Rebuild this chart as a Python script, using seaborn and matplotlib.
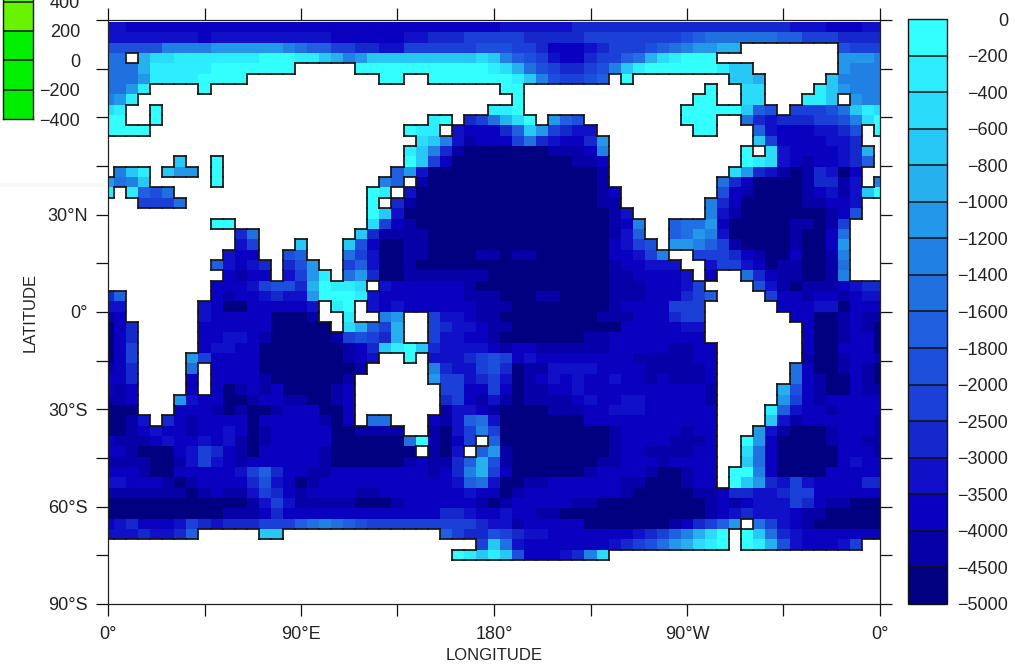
import numpy as np
import pandas as pd
import matplotlib
matplotlib.use('Agg')
import matplotlib.pyplot as plt
from matplotlib.collections import LineCollection
from matplotlib.colors import BoundaryNorm, ListedColormap
from matplotlib.patches import Rectangle
import seaborn as sns

# depth classes, hex digit = class counted from the top of the colorbar, '.' = land
# each row has 65 columns in groups of five, the first and last column are cut in half by the axes
ARCTIC_ROWS = [
    'ccddd ddddd ddddd ddddd ddddd ddddd dddcc ccccb bbbbb bbbbb bbbbb bbccc dddcc',
    'ccccc cccdc ccccc ccccd ddddd ccbbb aaaaa bbbbb aaaaa aaa98 77777 788aa abbbb',
    '99999 66665 55555 6788a abbcc aaaaa a999a abddd cbaaa 98765 544.. ..... .9aaa',
    '77.42 21111 11100 01134 65333 33333 32368 9acdd baa87 42100 0.... ..... .5556',
    '77741 11110 00000 0.... .0000 00000 00124 79abb a9631 00000 0133. ..... .5666',
    '77751 11100 00... ..... ...00 ..000 00001 369aa 98.0. ..... ..334 ..... 36666',
    '7751. ...0. ..... ..... ..... ..... ...00 ..... ..... ..... 0..22 ....1 35666',
    '651.. ..... ..... ..... ..... ..... ....0 ..... ..... ....0 0..22 ...11 3.566',
    '21..0 ..... ..... ..... ..... ..... ..110 ..... ..... ...00 00038 9.aaa 97312',
    '00..0 ..... ..... ..... ..... ..10. ba742 0.589 ..... ...00 0..7b cbbba a9620',
    '0000. ..... ..... ..... ..... 011.c dddb8 35abc c.... ....0 0...8 cdddc cb9.0',
    '..... ..... ..... ..... ..... .236c eddda 7bcdd b5... ..... ....3 adddd ccb..',
    '..... ..... ..... ..... ..... 136be fffff ffeee d6... ..... ...0. 2cddd dcb4.',
    '..... .3..0 ..... ..... ..... 03adf fffff ffffe ed... ..... ...01 2cded dcb8.',
    '.631. 355.0 ..... ..... ....8 5cfff fffff fffff fe... ..... ..25b cefeb cfd..',
    '5763. ....0 ..... ..... ...68 .efff fffff fffff fe... ..... .7bdf fffeb bec.6',
    '1.189 7.... ..... ..... ..01. cffff fffff fffff fed.. ..... .9def fffed cec30',
    '...aa a7... ..... ..... ..0.b effff fffff fffff fee.. ..... 6bdff fffee ddc..',
]
TROPIC_ROWS = [
    '..... ..... ..... ..... ..03c fffff fffff fffff ffec. ..... 6ceff fffff ed9..',
    '..... ....0 0.... ..... ..2ad effff fffff fffff ffed6 ..877 5dfff ffeef ea...',
    '..... ..... .b7.. ..... .3bee eefff fffff fffff ffec8 ..875 6cfff ffeff d7...',
    '..... ..... .ca.. .3... 39dff eefff fffff fffff ffdca 9.556 8aeff ffeff d5...',
    '..... ..... cdd.. 98... 7acff eefff feefe effff ffddc a6..a aabde ffdff e6...',
    '..... ....8 cdcb. b95.. a8cff effff fffff fffff ffedd ccc.. caacd feeff e7...',
    '..... ..... dedd. ca51. 75bff eeeee eefff fffff ffeed dddc. d..7b deeff e6...',
    '..... ....d ddca9 9b401 12.cd ddddd effff fffff ffeee dddca ....9 cefee edcbb',
    'b8... ....d eddcb cc500 01cdd ddddd eeeff feeff ffeee dddba 8.... added dedcc',
    'cc... ...cd ffddd ddc.1 0.cdc ddddd deeef fffff ffedd ddaaa ..... .dddc cfddd',
    'ed... ...cd ddddf ffe.. 1..65 ..acc deeff fffff feeed ddbaa ..... ..ddf fedee',
    'fdb.. ...dd ddddf ffff. 248a4 ..abc cdeef fffff fffdd dddcc ..... ...df fedef',
    'fdb.. ...dd ccdef ffffe a9ab4 ..acc ddeff fffff eeddd ddddd ..... ...df feddf',
    'fda.. ...dc cddff fffff edb31 03bcc ccded deeee eeddd ddeed d.... ...df fdddf',
    'fda.. ..5ad dddff fffff edc.. 0.ccc ba9ad cdddd dddde eeeed d.... ...ef fedde',
    'edb.. ..7.d dddff fffff fe... ..6bc ca9bf eeccc cdddd eeeee d.... ..7df fedef',
    'ddb.. ..d.d dddef fffff e.... ..5aa cbacf edcdc ddcdd edeee d.... ..7de ffdef',
    'ded.. ..d.d feded ffffe d.... ...aa ddadf eeddc ddddd ddddd e.... .49de ffdee',
    'eed.. .5cdd ffedd eeffe d.... ...ba decef eeeed cddcc ddddd e.... .5ade ddddd',
    'fff.. .ddde feffe dddff d.... ...ec cdeff ffeee ddccc ddddd d.... 18cdd edddd',
]
SOUTHERN_ROWS = [
    'ffec. bdedd ddfdd dddef d.77. ..dec 87cff fffff ddddd ddddd d.... 3cedd dddde',
    'ffedc ddedd cdfed ddddf feeee ..efc a6aff fffff ffedd ddded d...5 cefff eddde',
    'deeed cddcd cefed ddddf fffff 70efd a.8ff fffff ffedd ddeee d..05 dffff eddee',
    'ddeff fdcab defdd dddef fffff f.efc .85ef fffff ffedd eeeed d..27 dffff fddde',
    'eeeef fecac deddd dddef fffff edeeb 849ef fffff feedd deddd d..37 dffff fdcdd',
    'dddef fdddd dca8b ddeed ddddd ddedb 64adf fffff edddd effed d.006 dffff ddddd',
    'ccddd efedd ddb9c dfedd ddddd ddddc 87cff eeddd dddee fffed d.035 bcacd dddbb',
    'eeeee eefed eecab deddd deedd ddddd cddfe ddddd dddef ffffe edbbc cbaad ddddd',
    'fffff fffff ffeca ceeee efffe ddddd defed dddde effff fffff ededc ccabd eefff',
    'fffff fffff eeedb ddddd ddddd dddbb cddcd deeff fffff fffff edcbc ccdee fffff',
    'dcbdd dcabc bbbaa a8767 89aaa aaaaa abcce ddddd fffff ffedb a85.7 acdef fffff',
    'cccbc cb8.. ...33 ..... ..... ...8a bb9ab ccddd ddddc ba864 20.03 7bcdd ddddd',
    '..... ..... ..... ..... ..... ..... .a37c ddddd ddcba 97542 10.01 49cdd dca..',
    '..... ..... ..... ..... ..... ....0 13139 dddcb 62... ..... ..... ..... .....',
]

level_edges = [-5000, -4500, -4000, -3500, -3000, -2500, -2000, -1800, -1600, -1400,
               -1200, -1000, -800, -600, -400, -200, 0]
level_colors = ['#000080', '#0500a8', '#0a00c0', '#0f10c8', '#1428cc', '#1a40d8', '#1c50dc', '#2060e0',
                '#2070e0', '#2080e4', '#2398ea', '#26b0ee', '#27c8f5', '#2adcfa', '#2deeff', '#33ffff']

small_edges = [-400, -200, 0, 200, 400, 600]
small_colors = ['#00ee00', '#00f000', '#00f000', '#68f400', '#68f400']
small_values = [500, 300, 100, -100, -300]

lon_major = [0, 45, 90, 135, 180, 225, 270, 315, 360]
lon_labels = ['0°', '', '90°E', '', '180°', '', '90°W', '', '0°']
lat_major = [90, 75, 60, 45, 30, 15, 0, -15, -30, -45, -60, -75, -90]
lat_labels = ['', '', '', '', '30°N', '', '0°', '', '30°S', '', '60°S', '', '90°S']

W, H = 1015, 667


def px_axes(fig, x0, y0, x1, y1):
    # axes from pixel corners, y counted from the top
    return fig.add_axes([x0 / W, 1 - y1 / H, (x1 - x0) / W, (y1 - y0) / H])


def parse_rows(rows):
    mids = [(level_edges[15 - i] + level_edges[16 - i]) / 2 for i in range(16)]
    grid = np.full((56, 65), np.nan)
    for r, row in enumerate(rows):
        for c, ch in enumerate(row.replace(' ', '')):
            if ch != '.':
                grid[r, c] = mids[int(ch, 16)]
    return grid


def land_outline(land):
    segs = []
    for r in range(land.shape[0]):
        for c in range(land.shape[1]):
            if r > 0 and land[r, c] != land[r - 1, c]:
                segs.append([(c, r), (c + 1, r)])
            if c > 0 and land[r, c] != land[r, c - 1]:
                segs.append([(c, r), (c, r + 1)])
    return segs


def main():
    sns.set_theme(style='white')
    plt.rcParams['font.family'] = ['Liberation Sans', 'DejaVu Sans']
    plt.rcParams['axes.unicode_minus'] = True

    fig = plt.figure(figsize=(W / 100, H / 100), dpi=100)
    fig.add_artist(Rectangle((0, 1 - 187 / H), 104 / W, 4 / H, transform=fig.transFigure,
                             facecolor='#f8f8f8', edgecolor='none', zorder=0))
    ax = px_axes(fig, 108, 20, 880, 604)
    ax.patch.set_alpha(0)
    cax = px_axes(fig, 908, 19, 947, 604)
    small_ax = px_axes(fig, 2.5, -27.8, 33, 119)

    depth = pd.DataFrame(parse_rows(ARCTIC_ROWS + TROPIC_ROWS + SOUTHERN_ROWS))
    norm = BoundaryNorm(level_edges, len(level_colors))
    sns.heatmap(depth, ax=ax, cbar_ax=cax, cmap=ListedColormap(level_colors), norm=norm,
                xticklabels=False, yticklabels=False, linewidths=0, rasterized=False,
                cbar_kws={'ticks': level_edges, 'spacing': 'uniform', 'drawedges': True})

    # land outline from the same grid
    segs = land_outline(depth.isna().values)
    ax.add_collection(LineCollection(segs, colors='#151515', linewidths=1.25, capstyle='projecting', zorder=3))

    # half column at each side, rows are 10.35 px high
    to_x = lambda lon: 0.5 + np.array(lon) / 5.625
    to_y = lambda lat: (312 - np.array(lat) * 3.2444 - 21.9) / 10.35
    ax.set_xlim(to_x(0), to_x(360))
    ax.set_ylim(to_y(-90), to_y(90))

    ax.set_xticks(to_x(lon_major), lon_labels)
    ax.set_yticks(to_y(lat_major), lat_labels)
    ax.tick_params(axis='both', which='both', direction='out', length=8.5, width=0.9, color='#111111',
                   top=True, bottom=True, left=True, right=True, labelsize=13, labelcolor='#222222', pad=6)
    ax.tick_params(axis='x', pad=7)
    for side in ax.spines.values():
        side.set_visible(True)
        side.set_linewidth(0.9)
        side.set_color('#222222')
    ax.set_xlabel('LONGITUDE', fontsize=12, color='#222222', labelpad=4)
    ax.set_ylabel('LATITUDE', fontsize=12, color='#222222', labelpad=7)

    cbar = ax.collections[0].colorbar
    cbar.outline.set_edgecolor('#111111')
    cbar.outline.set_linewidth(1)
    cbar.dividers.set_color('#111111')
    cbar.dividers.set_linewidth(1.1)
    cax.tick_params(length=0, pad=44, labelsize=13, labelcolor='#222222')
    cax.set_yticks(level_edges, [str(v).replace('-', '\u2212') for v in level_edges])
    for lab in cax.get_yticklabels():
        lab.set_ha('right')

    # piece of a second colorbar left over at the top left corner
    sns.heatmap(pd.DataFrame(small_values), ax=small_ax, cbar=False, cmap=ListedColormap(small_colors),
                norm=BoundaryNorm([600, 400, 200, 0, -200, -400][::-1], 5), xticklabels=False,
                yticklabels=False, linewidths=0)
    small_ax.hlines(range(1, 5), 0, 1, colors='#111111', linewidths=1.1)
    for side in small_ax.spines.values():
        side.set_visible(True)
        side.set_linewidth(1)
        side.set_color('#111111')
    small_ax.set_yticks(range(1, 6), [str(v).replace('-', '\u2212') for v in small_edges[::-1][1:]])
    small_ax.tick_params(axis='y', length=0, pad=34, labelsize=13, labelcolor='#222222', left=False,
                         right=True, labelleft=False, labelright=True)
    for lab in small_ax.get_yticklabels():
        lab.set_ha('right')

    fig.savefig('out.png', dpi=100)


if __name__ == "__main__":
    main()
